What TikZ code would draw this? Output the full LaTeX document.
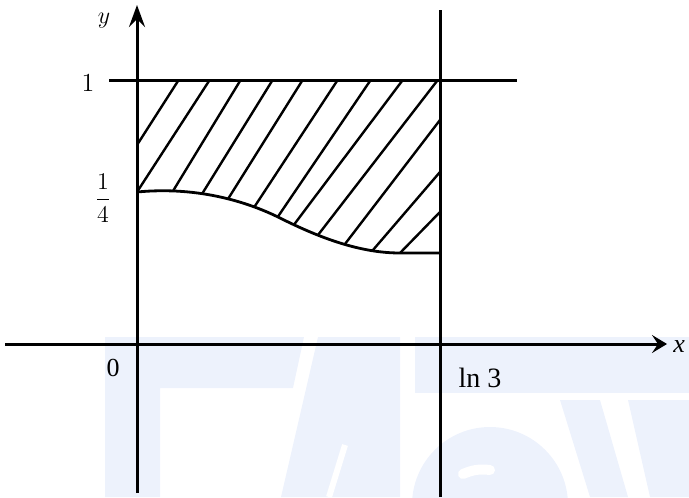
\documentclass[tikz,border=0pt]{standalone}
\usepackage{fontspec}
\newfontfamily\timesf{Liberation Serif}
\usetikzlibrary{arrows.meta,calc}
\definecolor{wm}{RGB}{237,242,252}
\tikzset{
  axis/.style={line width=1.5pt},
  hatch/.style={line width=1.2pt},
  curvestyle/.style={line width=1.4pt},
  lab/.style={inner sep=0pt, font=\fontsize{13}{15}\selectfont},
  tlab/.style={inner sep=0pt, font=\timesf\fontsize{13}{15}\selectfont},
}
\newcommand{\hl}[2]{\draw[hatch] ($#1!-0.15!#2$) -- ($#1!1.25!#2$);}
\begin{document}
\begin{tikzpicture}[x=0.5pt,y=-0.5pt]
\useasboundingbox (0,0) rectangle (689,497);
% faint watermark
\fill[wm] (105,337) -- (304,337) -- (293,388) -- (160,388) -- (160,497) -- (105,497) -- cycle;
\fill[wm] (318,337) -- (400,337) -- (400,497) -- (281,497) -- cycle;
\draw[white, line width=3pt] (345,445) -- (329,497);
\fill[wm] (415,337) rectangle (689,393);
\begin{scope}
\clip (0,0) rectangle (689,497);
\fill[wm] (490,505) circle (78);
\end{scope}
\draw[white, line width=5pt, line cap=round] (463,474) to[bend left=15] (490,470);
\fill[wm] (560,400) -- (600,400) -- (628,497) -- (590,497) -- cycle;
\fill[wm] (628,400) -- (689,400) -- (689,497) -- (650,497) -- cycle;
% coordinates
\coordinate (yb) at (137,493);
\coordinate (yt) at (137,5);
\coordinate (xl) at (5,344);
\coordinate (xr) at (667,344);
\coordinate (vt) at (440,10);
\coordinate (vb) at (440,497);
\coordinate (hl) at (109,81);
\coordinate (hr) at (517,81);
% hatching, clipped to the region
\begin{scope}
\clip (137,81) -- (137,192) .. controls (200,186) and (250,203) .. (280,218)
  .. controls (320,238) and (360,253) .. (400,253) -- (440,253) -- (440,81) -- cycle;
\hl{(178,81)}{(137,145)}
\hl{(209,81)}{(137,192)}
\hl{(240,81)}{(173,191)}
\hl{(272,81)}{(202,194)}
\hl{(302,81)}{(228,199)}
\hl{(337,81)}{(253,209)}
\hl{(370,81)}{(277,218)}
\hl{(402,81)}{(293,226)}
\hl{(437,81)}{(318,235)}
\hl{(440,120)}{(345,244)}
\hl{(440,172)}{(373,250)}
\hl{(440,212)}{(400,253)}
\end{scope}
% curve
\draw[curvestyle] (137,192) .. controls (200,186) and (250,203) .. (280,218)
  .. controls (320,238) and (360,253) .. (400,253) -- (440,253);
% lines and axes
\draw[axis] (hl) -- (hr);
\draw[axis] (vb) -- (vt);
\draw[axis, -{Stealth[length=11pt,width=8pt,inset=4pt]}] (yb) -- (yt);
\draw[axis, -{Stealth[length=7.5pt,width=9pt,inset=3pt]}] (xl) -- (xr);
% labels
\node[lab] (ylab) at (104,21) {$y$};
\node[tlab, anchor=west] (xlab) at (673,347) {\textit{x}};
\node[lab] (one) at (88,83) {1};
\node[lab] (quarter) at (103,198) {$\displaystyle\frac{1}{4}$};
\node[tlab] (zero) at (113,368) {0};
\node[tlab, font=\timesf\fontsize{14}{16}\selectfont] (ln3) at (480,378) {ln 3};
\end{tikzpicture}
\end{document}
